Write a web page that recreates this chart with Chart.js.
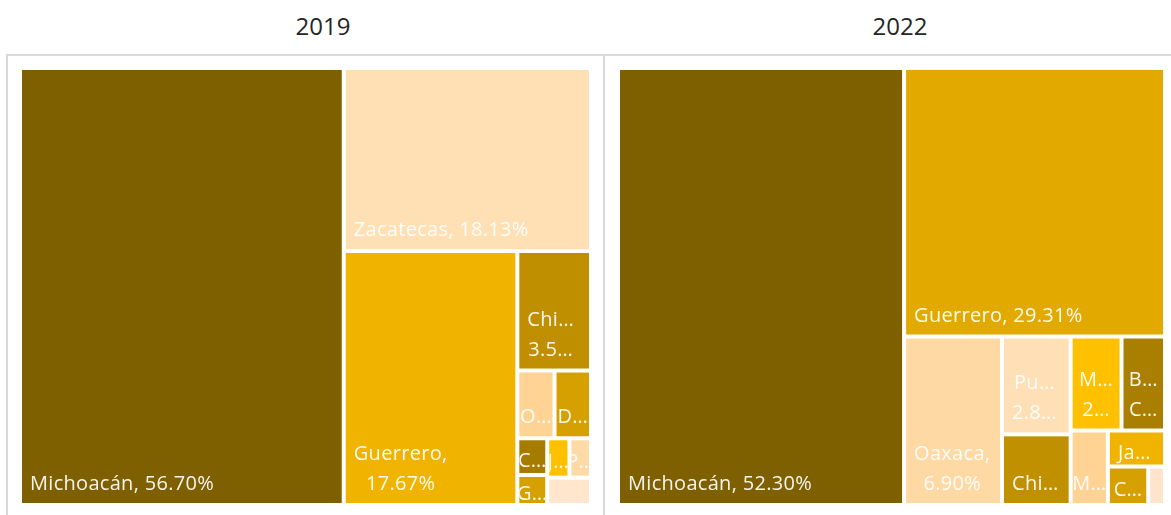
<!DOCTYPE html>
<html>
<head>
<meta charset="utf-8">
<script src="https://cdn.jsdelivr.net/npm/chart.js@4.4.1/dist/chart.umd.min.js"></script>
<style>
  body { margin: 0; background: #fff; width: 1171px; height: 515px; overflow: hidden; position: relative; font-family: 'Open Sans', sans-serif; }
  .title { position: absolute; top: 10px; width: 200px; text-align: center; font-size: 24px; line-height: 32px; color: #262626; }
  .rule { position: absolute; background: #d9d9d9; }
  .panel { position: absolute; top: 0; height: 515px; }
</style>
</head>
<body>
<div class="rule" style="left:6px;top:54px;width:1165px;height:2px"></div>
<div class="rule" style="left:6px;top:54px;width:2px;height:461px"></div>
<div class="rule" style="left:603px;top:54px;width:2px;height:461px"></div>
<div class="title" style="left:223px">2019</div>
<div class="title" style="left:800px">2022</div>
<div class="panel" style="left:0;width:605px"><canvas id="chart2019" width="605" height="515"></canvas></div>
<div class="panel" style="left:605px;width:566px"><canvas id="chart2022" width="566" height="515"></canvas></div>
<script>
// production share by state, percent of national total
const states2019 = ['Michoacán', 'Zacatecas', 'Guerrero', 'Chihuahua', 'Oaxaca', 'Durango', 'Colima', 'Guanajuato', 'Jalisco', 'Puebla', 'Otros'];
const shares2019 = [56.70, 18.13, 17.67, 3.53, 1.01, 0.99, 0.44, 0.36, 0.35, 0.34, 0.48];
const colors2019 = ['#7f6000', '#ffe0b4', '#f0b400', '#c08f00', '#ffd394', '#d5a000', '#a57c00', '#d5a000', '#ffc000', '#ffdaa6', '#ffe6cc'];

const states2022 = ['Michoacán', 'Guerrero', 'Oaxaca', 'Puebla', 'Chihuahua', 'México', 'Baja California', 'Morelos', 'Jalisco', 'Colima', 'Otros'];
const shares2022 = [52.30, 29.31, 6.90, 2.81, 2.03, 2.00, 1.71, 1.16, 0.86, 0.65, 0.27];
const colors2022 = ['#7f6000', '#e2aa00', '#ffd9a3', '#ffe0b6', '#c19000', '#ffc000', '#aa7f00', '#ffd394', '#f0b400', '#d5a000', '#ffe4cc'];

const STRETCH = 1.15;   // layout runs a bit wider than the plot, like the office treemap
const GAP = 4;
const PAD = 8;
const LINE_H = 30;

function worst(row, side) {
  const sum = row.reduce((s, it) => s + it.a, 0);
  const t = sum / side;
  return Math.max(...row.map(it => {
    const len = it.a / t;
    return Math.max(t / len, len / t);
  }));
}

// squarified treemap, returns rects in layout units
function squarify(values, W, H) {
  const total = values.reduce((s, v) => s + v, 0);
  const items = values.map((v, i) => ({ i: i, a: v / total * W * H }));
  const out = [];
  let rx = 0, ry = 0, rw = W, rh = H;
  let idx = 0;
  while (idx < items.length) {
    const vertical = rw >= rh;
    const side = vertical ? rh : rw;
    const row = [items[idx]];
    let j = idx + 1;
    while (j < items.length && worst(row.concat(items[j]), side) <= worst(row, side)) {
      row.push(items[j]);
      j++;
    }
    const t = row.reduce((s, it) => s + it.a, 0) / side;
    let off = 0;
    row.forEach(it => {
      const len = it.a / t;
      out[it.i] = vertical ? { x: rx, y: ry + off, w: t, h: len } : { x: rx + off, y: ry, w: len, h: t };
      off += len;
    });
    if (vertical) { rx += t; rw -= t; } else { ry += t; rh -= t; }
    idx = j;
  }
  return out;
}

function clipWord(ctx, word, maxW) {
  let n = word.length - 1;
  while (n > 1 && ctx.measureText(word.slice(0, n) + '…').width > maxW) n--;
  return word.slice(0, n) + '…';
}

function wrapLabel(ctx, text, maxW) {
  const lines = [];
  let cur = '';
  text.split(' ').forEach(word => {
    const test = cur ? cur + ' ' + word : word;
    if (ctx.measureText(test).width <= maxW) { cur = test; return; }
    if (cur) lines.push(cur);
    if (ctx.measureText(word).width <= maxW) {
      cur = word;
    } else {
      lines.push(clipWord(ctx, word, maxW));
      cur = '';
    }
  });
  if (cur) lines.push(cur);
  return lines;
}

const treemapCells = {
  id: 'treemapCells',
  afterDatasetsDraw(chart, args, opts) {
    const { ctx, chartArea, scales } = chart;
    const W = chartArea.width * STRETCH;
    const H = chartArea.height;
    const rects = squarify(opts.values, W, H);
    ctx.save();
    rects.forEach((r, i) => {
      const x0 = scales.x.getPixelForValue(r.x / W * 100) + GAP / 2;
      const x1 = scales.x.getPixelForValue((r.x + r.w) / W * 100) - GAP / 2;
      const y0 = scales.y.getPixelForValue(r.y / H * 100) + GAP / 2;
      const y1 = scales.y.getPixelForValue((r.y + r.h) / H * 100) - GAP / 2;
      ctx.fillStyle = opts.colors[i];
      ctx.fillRect(x0, y0, x1 - x0, y1 - y0);

      if (opts.names[i] === 'Otros') return;
      ctx.save();
      ctx.beginPath();
      ctx.rect(x0, y0, x1 - x0, y1 - y0);
      ctx.clip();
      ctx.font = '20px "Open Sans", sans-serif';
      ctx.letterSpacing = '0.3px';
      ctx.fillStyle = 'rgba(255,255,255,0.93)';
      ctx.textBaseline = 'alphabetic';
      const avail = x1 - x0 - 2 * PAD;
      const text = opts.names[i] + ', ' + opts.values[i].toFixed(2) + '%';
      let lines = wrapLabel(ctx, text, avail);
      const maxLines = Math.max(1, Math.floor((y1 - y0 - 20) / LINE_H));
      lines = lines.slice(0, maxLines);
      const widths = lines.map(l => ctx.measureText(l).width);
      const blockW = Math.max(...widths);
      const left = blockW <= avail ? x0 + PAD : x0 + (x1 - x0 - blockW) / 2;
      const lastBase = Math.max(y1 - 13, (y0 + y1) / 2 + 10);
      lines.forEach((l, k) => {
        const base = lastBase - (lines.length - 1 - k) * LINE_H;
        ctx.fillText(l, left + (blockW - widths[k]) / 2, base);
      });
      ctx.restore();
    });
    ctx.restore();
  }
};

function makeTreemap(id, names, values, colors, padding) {
  return new Chart(document.getElementById(id), {
    type: 'scatter',
    data: { datasets: [{ data: [] }] },
    options: {
      responsive: false,
      animation: false,
      layout: { padding: padding },
      scales: {
        x: { type: 'linear', min: 0, max: 100, display: false },
        y: { type: 'linear', min: 0, max: 100, reverse: true, display: false }
      },
      plugins: {
        legend: { display: false },
        tooltip: { enabled: false },
        treemapCells: { names: names, values: values, colors: colors }
      }
    },
    plugins: [treemapCells]
  });
}

makeTreemap('chart2019', states2019, shares2019, colors2019, { left: 20, right: 14, top: 68, bottom: 10 });
makeTreemap('chart2022', states2022, shares2022, colors2022, { left: 13, right: 6, top: 68, bottom: 10 });
</script>
</body>
</html>
